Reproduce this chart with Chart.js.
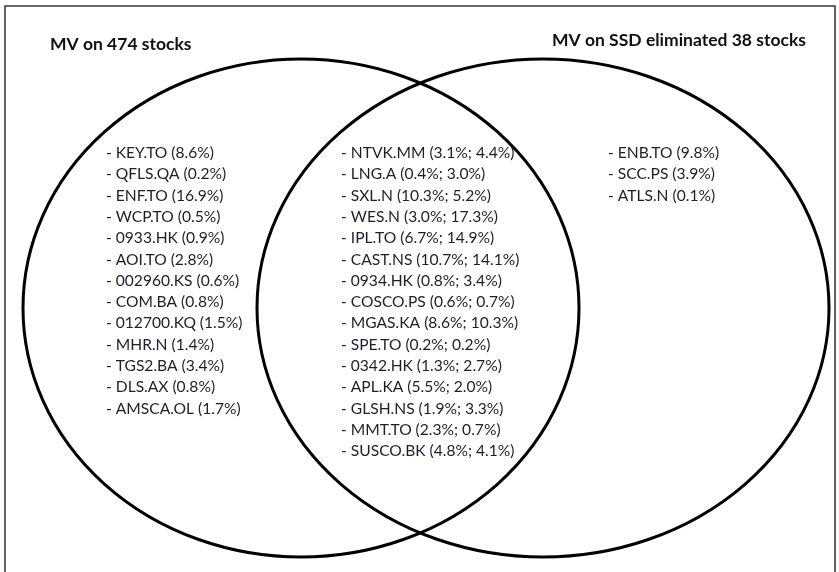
<!DOCTYPE html>
<html>
<head>
<meta charset="utf-8">
<script src="https://cdn.jsdelivr.net/npm/chart.js@4.4.1/dist/chart.umd.min.js"></script>
<style>
  html, body { margin: 0; padding: 0; background: #fff; }
  #wrap { width: 839px; height: 572px; }
</style>
</head>
<body>
<div id="wrap"><canvas id="c" width="839" height="572"></canvas></div>
<script>
// ---- data ----
const setTitles = ['MV on 474 stocks', 'MV on SSD eliminated 38 stocks'];

const leftOnlyTickers = ['KEY.TO', 'QFLS.QA', 'ENF.TO', 'WCP.TO', '0933.HK', 'AOI.TO', '002960.KS',
  'COM.BA', '012700.KQ', 'MHR.N', 'TGS2.BA', 'DLS.AX', 'AMSCA.OL'];
const leftOnlyWeights = [8.6, 0.2, 16.9, 0.5, 0.9, 2.8, 0.6, 0.8, 1.5, 1.4, 3.4, 0.8, 1.7];

const bothTickers = ['NTVK.MM', 'LNG.A', 'SXL.N', 'WES.N', 'IPL.TO', 'CAST.NS', '0934.HK', 'COSCO.PS',
  'MGAS.KA', 'SPE.TO', '0342.HK', 'APL.KA', 'GLSH.NS', 'MMT.TO', 'SUSCO.BK'];
const bothWeightsMV = [3.1, 0.4, 10.3, 3.0, 6.7, 10.7, 0.8, 0.6, 8.6, 0.2, 1.3, 5.5, 1.9, 2.3, 4.8];
const bothWeightsSSD = [4.4, 3.0, 5.2, 17.3, 14.9, 14.1, 3.4, 0.7, 10.3, 0.2, 2.7, 2.0, 3.3, 0.7, 4.1];

const rightOnlyTickers = ['ENB.TO', 'SCC.PS', 'ATLS.N'];
const rightOnlyWeights = [9.8, 3.9, 0.1];

// ---- labels built from data ----
const pct = v => v.toFixed(1) + '%';
const leftLabels = leftOnlyTickers.map((t, i) => `- ${t} (${pct(leftOnlyWeights[i])})`);
const bothLabels = bothTickers.map((t, i) => `- ${t} (${pct(bothWeightsMV[i])}; ${pct(bothWeightsSSD[i])})`);
const rightLabels = rightOnlyTickers.map((t, i) => `- ${t} (${pct(rightOnlyWeights[i])})`);

// ---- layout (in scale units; scale = canvas pixels) ----
const circles = [
  { cx: 301, cy: 308, rx: 278, ry: 249 },
  { cx: 543, cy: 308, rx: 286, ry: 249 }
];
const columns = [
  { x: 106, y: 153, labels: leftLabels },
  { x: 341, y: 153, labels: bothLabels },
  { x: 608, y: 153, labels: rightLabels }
];
const rowStep = 21.3;
const titlePos = [ { x: 50, y: 44 }, { x: 552, y: 40 } ];

const vennPlugin = {
  id: 'venn',
  afterDatasetsDraw(chart) {
    const { ctx, scales: { x, y } } = chart;
    const px = v => x.getPixelForValue(v);
    const py = v => y.getPixelForValue(v);
    ctx.save();
    // frame
    ctx.strokeStyle = '#3a3a3a';
    ctx.lineWidth = 1.6;
    ctx.beginPath();
    ctx.moveTo(px(5), py(580));
    ctx.lineTo(px(5), py(6));
    ctx.lineTo(px(835), py(6));
    ctx.lineTo(px(835), py(580));
    ctx.stroke();
    // circles
    ctx.strokeStyle = '#000';
    ctx.lineWidth = 3;
    circles.forEach(c => {
      ctx.beginPath();
      ctx.ellipse(px(c.cx), py(c.cy), Math.abs(px(c.cx + c.rx) - px(c.cx)),
        Math.abs(py(c.cy + c.ry) - py(c.cy)), 0, 0, Math.PI * 2);
      ctx.stroke();
    });
    // titles
    ctx.fillStyle = '#111';
    ctx.textBaseline = 'middle';
    ctx.textAlign = 'left';
    ctx.font = 'bold 17.5px Lato, "Open Sans", sans-serif';
    setTitles.forEach((t, i) => ctx.fillText(t, px(titlePos[i].x), py(titlePos[i].y)));
    // members
    ctx.font = '15.6px Lato, "Open Sans", sans-serif';
    ctx.fillStyle = '#1e1e2e';
    columns.forEach(col => {
      col.labels.forEach((l, i) => ctx.fillText(l, px(col.x), py(col.y + i * rowStep)));
    });
    ctx.restore();
  }
};

new Chart(document.getElementById('c'), {
  type: 'scatter',
  data: { datasets: [{ data: [], pointRadius: 0 }] },
  options: {
    responsive: false,
    animation: false,
    layout: { padding: 0 },
    plugins: { legend: { display: false }, tooltip: { enabled: false } },
    scales: {
      x: { type: 'linear', min: 0, max: 839, display: false },
      y: { type: 'linear', min: 0, max: 572, reverse: true, display: false }
    }
  },
  plugins: [vennPlugin]
});
</script>
</body>
</html>
